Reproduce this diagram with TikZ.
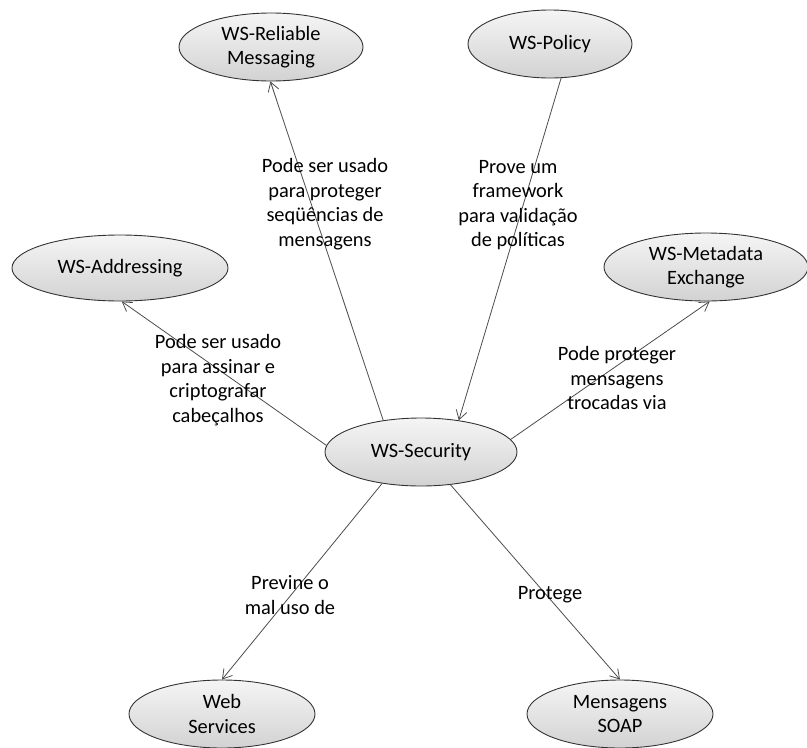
\documentclass[tikz,border=0pt]{standalone}
\usepackage{fontspec}
\setmainfont{Carlito}
\usetikzlibrary{shapes.geometric,arrows.meta}
\begin{document}
\begin{tikzpicture}[x=1pt,y=-1pt,
  bubble/.style={ellipse,draw=black!80,line width=0.9pt,top color=gray!8,bottom color=gray!35,
    inner sep=0pt,align=center,text=black,font=\fontsize{20.4}{24.5}\selectfont},
  lbl/.style={align=center,text=black,font=\fontsize{20.4}{24.5}\selectfont,inner sep=0pt},
  conn/.style={draw=black!70,line width=0.8pt,-{Straight Barb[length=9pt,width=11pt]}}]
\useasboundingbox (0,0) rectangle (807,748);
\node[bubble,minimum width=184pt,minimum height=68pt] (rel) at (271,47) {WS-Reliable\\Messaging};
\node[bubble,minimum width=164pt,minimum height=68pt] (pol) at (550,44) {WS-Policy};
\node[bubble,minimum width=216pt,minimum height=66pt] (add) at (120,268) {WS-Addressing};
\node[bubble,minimum width=204pt,minimum height=68pt] (meta) at (706,267) {WS-Metadata\\Exchange};
\node[bubble,minimum width=192pt,minimum height=68pt] (sec) at (421,452) {WS-Security};
\node[bubble,minimum width=186pt,minimum height=68pt] (web) at (222,714) {Web\\Services};
\node[bubble,minimum width=186pt,minimum height=68pt] (soap) at (620,714) {Mensagens\\SOAP};

\draw[conn] (sec.140) -- (rel.-91);
\draw[conn] (pol.-72) -- (sec.40);
\draw[conn] (sec.176) -- (add.-87);
\draw[conn] (sec.8) -- (meta.-84);
\draw[conn] (sec.-141) -- (web.north);
\draw[conn] (sec.-48) -- (soap.north);

\node[lbl] (l1) at (325,204) {Pode ser usado\\para proteger\\seqüências de\\mensagens};
\node[lbl] (l2) at (518,205) {Prove um\\framework\\para validação\\de políticas};
\node[lbl] (l3) at (218,380) {Pode ser usado\\para assinar e\\criptografar\\cabeçalhos};
\node[lbl] (l4) at (617,378) {Pode proteger\\mensagens\\trocadas via};
\node[lbl] (l5) at (290,595) {Previne o\\mal uso de};
\node[lbl] (l6) at (550,595) {Protege};
\end{tikzpicture}
\end{document}
